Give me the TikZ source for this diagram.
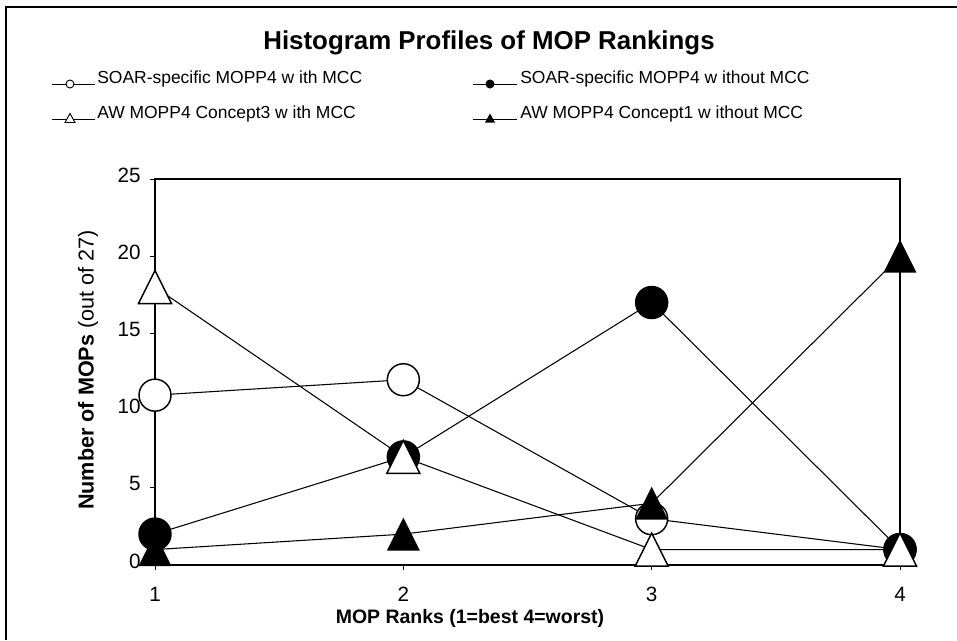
\documentclass[tikz,border=0pt]{standalone}
\usepackage{fontspec}
\setmainfont{Liberation Sans}
\usetikzlibrary{positioning}

\tikzset{
    series/.style={line width=0.8pt},
    ocirc/.style={circle, draw, fill=white, line width=1.1pt, inner sep=0pt, minimum size=24pt},
    fcirc/.style={circle, draw, fill=black, line width=1.1pt, inner sep=0pt, minimum size=24pt},
    lgocirc/.style={circle, draw, fill=white, line width=0.7pt, inner sep=0pt, minimum size=6pt},
    lgfcirc/.style={circle, draw, fill=black, line width=0.7pt, inner sep=0pt, minimum size=6pt},
    legtext/.style={anchor=west, inner sep=0pt, font=\fontsize{13.1}{15}\selectfont},
    ticklabel/.style={inner sep=0pt, font=\fontsize{15.5}{18}\selectfont},
    otri/.pic={\draw[fill=white, line width=1.1pt] (-16.5,16.5) -- (0,-16.5) -- (16.5,16.5) -- cycle;},
    ftri/.pic={\fill[black] (-16.5,16.5) -- (0,-16.5) -- (16.5,16.5) -- cycle;},
    lgotri/.pic={\draw[fill=white, line width=0.7pt] (-5,4.5) -- (0,-4.5) -- (5,4.5) -- cycle;},
    lgftri/.pic={\fill[black] (-5,4.5) -- (0,-4.5) -- (5,4.5) -- cycle;}
}

\begin{document}
\begin{tikzpicture}[x=0.75pt, y=-0.75pt]
    \useasboundingbox (0,0) rectangle (957,640);
    % Outer frame
    \coordinate (frameBL) at (6,640);
    \coordinate (frameTR) at (957,7);
    \draw[line width=0.8pt] (frameBL) |- (frameTR);

    % Title
    \node[font=\fontsize{19.4}{22}\selectfont\bfseries] (title) at (489,43) {Histogram Profiles of MOP Rankings};

    % Legend
    \coordinate (lg1s) at (52,84);  \coordinate (lg1e) at (95,84);
    \coordinate (lg2s) at (473,84); \coordinate (lg2e) at (517,84);
    \coordinate (lg3s) at (52,119); \coordinate (lg3e) at (95,119);
    \coordinate (lg4s) at (473,119);\coordinate (lg4e) at (517,119);
    \draw[line width=0.6pt] (lg1s) -- (lg1e);
    \draw[line width=0.6pt] (lg2s) -- (lg2e);
    \draw[line width=0.6pt] (lg3s) -- (lg3e);
    \draw[line width=0.6pt] (lg4s) -- (lg4e);
    \node[lgocirc] (lg1m) at (70,84) {};
    \node[lgfcirc] (lg2m) at (490,84) {};
    \pic at (70,118) {lgotri};
    \pic at (490,118) {lgftri};
    \node[legtext] (lg1t) at (97,79) {SOAR-specific MOPP4 w ith MCC};
    \node[legtext] (lg2t) at (520,79) {SOAR-specific MOPP4 w ithout MCC};
    \node[legtext] (lg3t) at (97,114) {AW MOPP4 Concept3 w ith MCC};
    \node[legtext] (lg4t) at (520,114) {AW MOPP4 Concept1 w ithout MCC};

    % Plot area
    \coordinate (plotTL) at (155,179);
    \coordinate (plotBR) at (900,565);
    \draw[line width=0.9pt] (plotTL) rectangle (plotBR);

    % Axis ticks and labels
    \foreach \v in {0,5,...,25} {
        \coordinate (yt\v) at (155,{565-\v*15.44});
        \draw[line width=0.7pt] (yt\v) -- ++(-5,0);
        \node[ticklabel, anchor=east] (ylab\v) at (141,{561-\v*15.44}) {\v};
    }
    \foreach \r in {1,...,4} {
        \coordinate (xt\r) at ({155+(\r-1)*248.33},565);
        \draw[line width=0.7pt] (xt\r) -- ++(0,5);
        \node[ticklabel] (xlab\r) at ({155+(\r-1)*248.33},594) {\r};
    }
    \node[font=\fontsize{14.6}{17}\selectfont\bfseries] (xaxis) at (470,618) {MOP Ranks (1=best 4=worst)};
    \node[rotate=90, font=\fontsize{16.2}{19}\selectfont] (yaxis) at (88,370) {\textbf{Number of MOPs} (out of 27)};

    % Data points
    \foreach \name/\vals in {oc/{11,12,3,1}, fc/{2,7,17,1}, ot/{18,7,1,1}, ft/{1,2,4,20}} {
        \foreach \v [count=\r] in \vals {
            \coordinate (\name\r) at ({155+(\r-1)*248.33},{565-\v*15.44});
        }
    }

    % Series lines
    \draw[series] (oc1) -- (oc2) -- (oc3) -- (oc4);
    \draw[series] (fc1) -- (fc2) -- (fc3) -- (fc4);
    \draw[series] (ot1) -- (ot2) -- (ot3) -- (ot4);
    \draw[series] (ft1) -- (ft2) -- (ft3) -- (ft4);

    % Markers
    \foreach \r in {1,...,4} \node[ocirc] (ocm\r) at (oc\r) {};
    \foreach \r in {1,...,4} \node[fcirc] (fcm\r) at (fc\r) {};
    \foreach \r in {1,...,4} \pic at (ot\r) {otri};
    \foreach \r in {1,...,4} \pic at (ft\r) {ftri};
\end{tikzpicture}
\end{document}
